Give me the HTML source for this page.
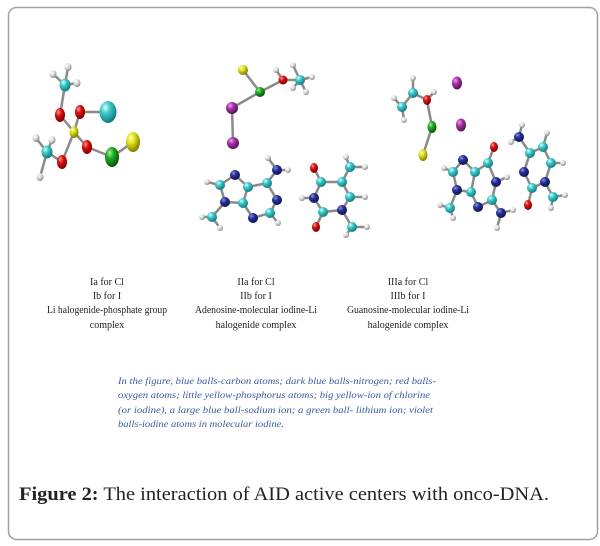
<!DOCTYPE html>
<html><head><meta charset="utf-8"><style>
html,body{margin:0;padding:0;background:#fff;width:600px;height:546px;overflow:hidden}
svg{display:block}
</style></head><body>
<svg width="600" height="546" viewBox="0 0 600 546" xmlns="http://www.w3.org/2000/svg">
<defs>
<radialGradient id="gC" cx="35%" cy="30%" r="70%"><stop offset="0" stop-color="#d8ffff"/><stop offset=".4" stop-color="#3cc8c8"/><stop offset="1" stop-color="#137d80"/></radialGradient>
<radialGradient id="gN" cx="35%" cy="30%" r="70%"><stop offset="0" stop-color="#8a95e8"/><stop offset=".4" stop-color="#28309a"/><stop offset="1" stop-color="#10154d"/></radialGradient>
<radialGradient id="gO" cx="35%" cy="30%" r="70%"><stop offset="0" stop-color="#ff9a9a"/><stop offset=".4" stop-color="#dd1010"/><stop offset="1" stop-color="#800000"/></radialGradient>
<radialGradient id="gH" cx="35%" cy="30%" r="70%"><stop offset="0" stop-color="#ffffff"/><stop offset=".5" stop-color="#dcdcdc"/><stop offset="1" stop-color="#8c8c8c"/></radialGradient>
<radialGradient id="gY" cx="35%" cy="30%" r="70%"><stop offset="0" stop-color="#ffffb0"/><stop offset=".4" stop-color="#e0e020"/><stop offset="1" stop-color="#808000"/></radialGradient>
<radialGradient id="gG" cx="35%" cy="30%" r="70%"><stop offset="0" stop-color="#a0f0a0"/><stop offset=".4" stop-color="#22aa22"/><stop offset="1" stop-color="#0a550a"/></radialGradient>
<radialGradient id="gV" cx="35%" cy="30%" r="70%"><stop offset="0" stop-color="#f0a0f0"/><stop offset=".4" stop-color="#aa30aa"/><stop offset="1" stop-color="#551555"/></radialGradient>
</defs>
<rect x="8.5" y="7.5" width="589" height="532" rx="8" fill="#fff" stroke="#a0a0a0" stroke-width="1.5"/>
<g stroke="#8a8a8a" stroke-width="2.5" stroke-linecap="round" fill="none">
<path d="M68 67L65 85M53 74L65 85M77 83L65 85M65 85L60 115M60 115L74 132M80 112L74 132M80 112L108 112M74 132L87 147M87 147L112 157M112 157L133 142M74 132L62 162M62 162L47 152M36 138L47 152M52 140L47 152M40 177L47 152"/>
<path d="M243 70L260 92M260 92L283 80M283 80L300 80M293 65L300 80M312 77L300 80M306 92L300 80M276 70L283 80M293 88L300 80M260 92L232 108M232 108L233 143"/>
<path d="M235 175L220 185L225 202L243 203L248 187L235 175M248 187L267 183L277 200L270 213L253 218L243 203M267 183L277 170M277 170L268 158M277 170L288 170M270 213L278 223M220 185L207 182M225 202L212 217M212 217L202 217M212 217L220 228"/>
<path d="M314 168L321 182L314 198L323 212L342 210L350 197L342 182L321 182M323 212L316 227M314 198L302 198M342 182L350 167M350 167L346 157M350 167L365 167M350 197L365 197M342 210L352 227M352 227L367 227M352 227L346 235"/>
<path d="M394 98L402 107M404 120L402 107M402 107L413 93M413 78L413 93M413 93L427 100M434 92L427 100M427 100L432 127M432 127L423 155"/>
<path d="M463 160L453 172L457 190L471 192L475 172L463 160M475 172L488 163L496 182L492 200L478 207L471 192M488 163L494 147M496 182L507 177M492 200L501 213M501 213L513 210M501 213L497 228M453 172L444 168M457 190L450 208M450 208L440 205M450 208L453 218"/>
<path d="M522 125L519 137M511 142L519 137M519 137L530 153L543 147L551 163L545 182L532 188L524 172L530 153M543 147L547 133M551 163L563 163M545 182L553 197M553 197L565 195M553 197L551 208M532 188L528 205"/>
</g>
<g>
<g fill="url(#gH)">
<ellipse cx="68" cy="67" rx="3.5" ry="4"/><ellipse cx="53" cy="74" rx="3.5" ry="4"/><ellipse cx="77" cy="83" rx="3.5" ry="4"/><ellipse cx="36" cy="138" rx="3.5" ry="4"/><ellipse cx="52" cy="140" rx="3.5" ry="4"/><ellipse cx="40" cy="177" rx="3.5" ry="4"/>
<circle cx="293" cy="65" r="3"/><circle cx="312" cy="77" r="3"/><circle cx="306" cy="92" r="3"/><circle cx="276" cy="70" r="3"/><circle cx="293" cy="88" r="3"/>
<circle cx="268" cy="158" r="3"/><circle cx="288" cy="170" r="3"/><circle cx="278" cy="223" r="3"/><circle cx="207" cy="182" r="3"/><circle cx="202" cy="217" r="3"/><circle cx="220" cy="228" r="3"/>
<circle cx="302" cy="198" r="3"/><circle cx="346" cy="157" r="3"/><circle cx="365" cy="167" r="3"/><circle cx="365" cy="197" r="3"/><circle cx="367" cy="227" r="3"/><circle cx="346" cy="235" r="3"/>
<circle cx="394" cy="98" r="3"/><circle cx="404" cy="120" r="3"/><circle cx="413" cy="78" r="3"/><circle cx="434" cy="92" r="3"/>
<circle cx="507" cy="177" r="3"/><circle cx="513" cy="210" r="3"/><circle cx="497" cy="228" r="3"/><circle cx="444" cy="168" r="3"/><circle cx="440" cy="205" r="3"/><circle cx="453" cy="218" r="3"/>
<circle cx="522" cy="125" r="3"/><circle cx="511" cy="142" r="3"/><circle cx="547" cy="133" r="3"/><circle cx="563" cy="163" r="3"/><circle cx="565" cy="195" r="3"/><circle cx="551" cy="208" r="3"/>
</g>
<g fill="url(#gC)">
<ellipse cx="65" cy="85" rx="5.5" ry="6.5"/><ellipse cx="47" cy="152" rx="5.5" ry="6.5"/><ellipse cx="108" cy="112" rx="8.5" ry="11"/>
<circle cx="300" cy="80" r="5"/>
<circle cx="220" cy="185" r="5"/><circle cx="243" cy="203" r="5"/><circle cx="248" cy="187" r="5"/><circle cx="267" cy="183" r="5"/><circle cx="270" cy="213" r="5"/><circle cx="212" cy="217" r="5"/>
<circle cx="321" cy="182" r="5"/><circle cx="323" cy="212" r="5"/><circle cx="350" cy="197" r="5"/><circle cx="342" cy="182" r="5"/><circle cx="350" cy="167" r="5"/><circle cx="352" cy="227" r="5"/>
<circle cx="402" cy="107" r="5"/><circle cx="413" cy="93" r="5"/>
<circle cx="453" cy="172" r="5"/><circle cx="471" cy="192" r="5"/><circle cx="475" cy="172" r="5"/><circle cx="488" cy="163" r="5"/><circle cx="492" cy="200" r="5"/><circle cx="450" cy="208" r="5"/>
<circle cx="530" cy="153" r="5"/><circle cx="543" cy="147" r="5"/><circle cx="551" cy="163" r="5"/><circle cx="532" cy="188" r="5"/><circle cx="553" cy="197" r="5"/>
</g>
<g fill="url(#gN)">
<circle cx="235" cy="175" r="5"/><circle cx="225" cy="202" r="5"/><circle cx="277" cy="170" r="5"/><circle cx="277" cy="200" r="5"/><circle cx="253" cy="218" r="5"/>
<circle cx="314" cy="198" r="5"/><circle cx="342" cy="210" r="5"/>
<circle cx="463" cy="160" r="5"/><circle cx="457" cy="190" r="5"/><circle cx="496" cy="182" r="5"/><circle cx="478" cy="207" r="5"/><circle cx="501" cy="213" r="5"/>
<circle cx="519" cy="137" r="5"/><circle cx="545" cy="182" r="5"/><circle cx="524" cy="172" r="5"/>
</g>
<g fill="url(#gO)">
<ellipse cx="60" cy="115" rx="5" ry="7"/><ellipse cx="80" cy="112" rx="5" ry="7"/><ellipse cx="87" cy="147" rx="5" ry="7"/><ellipse cx="62" cy="162" rx="5" ry="7"/>
<circle cx="283" cy="80" r="4.5"/>
<ellipse cx="314" cy="168" rx="4" ry="5"/><ellipse cx="316" cy="227" rx="4" ry="5"/>
<ellipse cx="427" cy="100" rx="4" ry="5"/><ellipse cx="494" cy="147" rx="4" ry="5"/><ellipse cx="528" cy="205" rx="4" ry="5"/>
</g>
<g fill="url(#gY)">
<ellipse cx="74" cy="132" rx="4.5" ry="6"/><ellipse cx="133" cy="142" rx="7" ry="10"/><circle cx="243" cy="70" r="5"/><ellipse cx="423" cy="155" rx="4.5" ry="6"/>
</g>
<g fill="url(#gG)">
<ellipse cx="112" cy="157" rx="7" ry="10"/><circle cx="260" cy="92" r="5"/><ellipse cx="432" cy="127" rx="4.5" ry="6"/>
</g>
<g fill="url(#gV)">
<circle cx="232" cy="108" r="6"/><circle cx="233" cy="143" r="6"/><ellipse cx="457" cy="83" rx="5" ry="6.5"/><ellipse cx="461" cy="125" rx="5" ry="6.5"/>
</g>
</g>
<g font-family="Liberation Serif, serif" font-size="10" fill="#222" text-anchor="middle">
<text x="107" y="285">Ia for Cl</text><text x="107" y="299">Ib for I</text><text x="107" y="313" textLength="120" lengthAdjust="spacingAndGlyphs">Li halogenide-phosphate group</text><text x="107" y="328">complex</text>
<text x="256" y="285">IIa for Cl</text><text x="256" y="299">IIb for I</text><text x="256" y="313" textLength="122" lengthAdjust="spacingAndGlyphs">Adenosine-molecular iodine-Li</text><text x="256" y="328">halogenide complex</text>
<text x="408" y="285">IIIa for Cl</text><text x="408" y="299">IIIb for I</text><text x="408" y="313" textLength="122" lengthAdjust="spacingAndGlyphs">Guanosine-molecular iodine-Li</text><text x="408" y="328">halogenide complex</text>
</g>
<g font-family="Liberation Serif, serif" font-size="9" font-style="italic" fill="#3a5aa0">
<text x="118" y="384" textLength="318" lengthAdjust="spacingAndGlyphs">In the figure, blue balls-carbon atoms; dark blue balls-nitrogen; red balls-</text>
<text x="118" y="398" textLength="312" lengthAdjust="spacingAndGlyphs">oxygen atoms; little yellow-phosphorus atoms; big yellow-ion of chlorine</text>
<text x="118" y="413" textLength="315" lengthAdjust="spacingAndGlyphs">(or iodine), a large blue ball-sodium ion; a green ball- lithium ion; violet</text>
<text x="118" y="427" textLength="166" lengthAdjust="spacingAndGlyphs">balls-iodine atoms in molecular iodine.</text>
</g>
<text x="19" y="500" font-family="Liberation Serif, serif" font-size="19" fill="#222" textLength="530" lengthAdjust="spacingAndGlyphs"><tspan font-weight="bold">Figure 2:</tspan> The interaction of AID active centers with onco-DNA.</text>
</svg>
</body></html>
